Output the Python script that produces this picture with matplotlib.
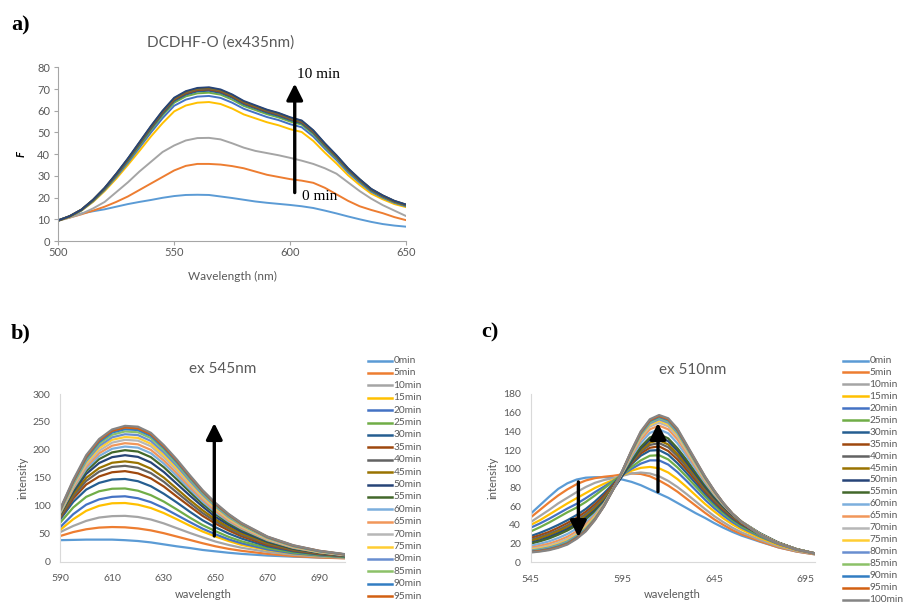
import matplotlib
matplotlib.use("Agg")
import matplotlib.pyplot as plt
from matplotlib.lines import Line2D

plt.rcParams["font.family"] = ["Lato", "DejaVu Sans"]

# ---------------- data ----------------
# Excel-style series colours (0, 5, 10 ... min)
series_colors = ["#5B9BD5", "#ED7D31", "#A5A5A5", "#FFC000", "#4472C4", "#70AD47",
                 "#255E91", "#9E480E", "#636363", "#997300", "#264478", "#43682B",
                 "#7CAFDD", "#F1975A", "#B7B7B7", "#FFCD33", "#698ED0", "#8CC168",
                 "#327DC2", "#D26012", "#848484"]

# a) DCDHF-O, excitation 435 nm, 0-10 min
a_wavelength = list(range(500, 655, 5))
a_0min = [9.7, 11.3, 12.7, 13.7, 14.6, 15.8, 17, 18, 18.9, 19.9, 20.7, 21.2, 21.3, 21.2, 20.5, 19.8,
          19, 18.2, 17.6, 17.1, 16.6, 16, 15.2, 14, 12.7, 11.3, 10, 8.8, 7.8, 7.1, 6.6]
a_1min = [9.5, 10.8, 12.3, 14, 15.8, 18, 20.5, 23.5, 26.5, 29.5, 32.5, 34.6, 35.5, 35.5, 35.2, 34.5,
          33.5, 32, 30.5, 29.5, 28.5, 27.8, 26.8, 24.5, 21.5, 18.5, 16, 14.3, 12.8, 11, 9.6]
a_2min = [9.3, 10.8, 12.5, 15, 18, 22.5, 27, 32, 36.5, 41, 44, 46.3, 47.4, 47.5, 46.8, 45,
          43, 41.5, 40.5, 39.5, 38.3, 37, 35.5, 33.5, 31, 27, 23, 19.5, 16.5, 14, 11.5]
a_3min = [9.3, 11.2, 14, 18, 23, 28.7, 35, 41.5, 48.2, 54.3, 59.7, 62.4, 63.7, 64, 63.1, 61,
          58.3, 56.5, 54.7, 53.3, 51.5, 50.2, 46.1, 40.7, 35.7, 30.3, 25.8, 21.8, 19.2, 17, 15.6]
a_4min = [9.3, 11.3, 14.1, 18.3, 23.5, 29.5, 36, 43, 50, 56.6, 62.3, 65.1, 66.5, 66.8, 65.9, 63.7,
          60.9, 59, 57.1, 55.7, 53.8, 52.4, 48.1, 42.5, 37.3, 31.6, 26.9, 22.7, 19.9, 17.6, 16]
a_5min = [9.4, 11.3, 14.2, 18.5, 23.8, 30, 36.7, 43.9, 51.1, 57.9, 63.7, 66.6, 68, 68.3, 67.4, 65.1,
          62.2, 60.3, 58.4, 56.9, 55, 53.6, 49.2, 43.4, 38.1, 32.3, 27.5, 23.2, 20.3, 17.9, 16.3]
a_6min = [9.4, 11.4, 14.3, 18.7, 24, 30.3, 37.1, 44.5, 51.8, 58.6, 64.5, 67.4, 68.9, 69.2, 68.2, 66,
          63, 61.1, 59.1, 57.6, 55.7, 54.2, 49.8, 44, 38.6, 32.7, 27.8, 23.4, 20.5, 18.1, 16.4]
a_7min = [9.4, 11.4, 14.4, 18.8, 24.2, 30.6, 37.5, 44.9, 52.3, 59.2, 65.1, 68, 69.5, 69.8, 68.8, 66.6,
          63.6, 61.6, 59.7, 58.2, 56.2, 54.7, 50.3, 44.4, 38.9, 33, 28.1, 23.7, 20.7, 18.2, 16.6]
a_8min = [9.5, 11.5, 14.4, 18.9, 24.3, 30.8, 37.7, 45.1, 52.6, 59.5, 65.5, 68.4, 69.9, 70.2, 69.2, 67,
          64, 62, 60, 58.5, 56.5, 55, 50.6, 44.6, 39.2, 33.2, 28.3, 23.8, 20.8, 18.4, 16.7]
a_9min = [9.5, 11.5, 14.5, 19, 24.4, 30.9, 37.8, 45.3, 52.8, 59.8, 65.7, 68.7, 70.2, 70.5, 69.5, 67.2,
          64.2, 62.2, 60.3, 58.8, 56.8, 55.3, 50.8, 44.8, 39.3, 33.4, 28.4, 23.9, 20.9, 18.4, 16.7]
a_10min = [9.5, 11.5, 14.5, 19, 24.5, 31, 38, 45.5, 53, 60, 66, 69, 70.5, 70.8, 69.8, 67.5,
           64.5, 62.5, 60.5, 59, 57, 55.5, 51, 45, 39.5, 33.5, 28.5, 24, 21, 18.5, 16.8]

# b) excitation 545 nm, 0-100 min
b_wavelength = [590, 595, 600, 605, 610, 615, 620, 625, 630, 635, 640, 645, 650, 655, 660, 670, 680, 690, 700]
b_0min = [38.5, 39, 39.5, 39.5, 39.5, 38.5, 37, 34.5, 31, 27.5, 24.5, 21, 18.5, 16, 14, 11, 9, 7.5, 6.5]
b_5min = [46, 53, 58, 61, 62, 61.5, 59.5, 56, 51, 45, 39, 33, 27.5, 23, 19.5, 14, 10, 7.5, 6]
b_10min = [53, 64, 73, 79, 81.5, 82, 80, 75.5, 68.5, 60, 51.5, 43.5, 36, 30, 25, 17.5, 12.5, 9, 7]
b_15min = [57, 76, 91, 100, 104.5, 105, 102, 96, 87, 76, 64.5, 54, 45, 37, 30, 21, 14.5, 10.5, 8]
b_20min = [62, 85, 102, 111.5, 116, 117, 113.5, 106.5, 96, 83.5, 71, 59, 49, 40, 33, 22, 15, 11, 8]
b_25min = [70, 97, 116, 126, 130.5, 131, 127, 119, 107.5, 93.5, 79, 65.5, 54.5, 44.5, 36.5, 24.5, 16.5, 12, 8.5]
b_30min = [76, 107, 129, 141, 147, 148, 144, 135, 121.5, 106, 89.5, 74, 61.5, 50.5, 41.5, 27.5, 18.5, 13, 9.5]
b_35min = [79, 113, 138, 152.5, 160, 162, 158, 149, 134.5, 116.5, 99, 82, 68, 56, 45.5, 30, 20, 14, 10]
b_40min = [81, 117, 144.5, 161, 169.5, 171.5, 168, 158.5, 143, 124, 105, 87, 72, 59.5, 48.5, 32, 21, 15, 10.5]
b_45min = [83, 121, 150, 167.5, 177, 179.5, 176.5, 166.5, 150.5, 130.5, 110.5, 92, 75.5, 62, 51, 33.5, 22, 15.5, 11]
b_50min = [85, 125, 157, 176.5, 187, 190.5, 187.5, 177.5, 160.5, 139.5, 118.5, 98.5, 80, 66, 54, 35.5, 23, 16, 11]
b_55min = [86, 128, 162, 183.5, 195.5, 199.5, 197, 187, 169, 147.5, 125, 103.5, 85, 69, 57, 37, 24, 16.5, 11.5]
b_60min = [87, 130.5, 166, 189, 202, 206, 204, 194, 175.5, 153.5, 130, 107.5, 88, 72, 59, 38.5, 25, 17, 11.5]
b_65min = [88, 132.5, 170, 194, 207.5, 212, 210, 200, 181, 158.5, 134, 111, 91, 74, 60.5, 39.5, 25.5, 17, 12]
b_70min = [89, 135, 173.5, 198.5, 213, 218, 216.5, 206.5, 186.5, 163.5, 138.5, 114.5, 94, 76.5, 62.5, 40.5, 26.5, 17.5, 12]
b_75min = [90, 137.5, 177, 203, 218, 223, 221.5, 211, 191, 167.5, 142, 117.5, 96, 78, 64, 41.5, 27, 18, 12.5]
b_80min = [91, 139, 180, 207, 222.5, 228, 226.5, 216, 195.5, 171.5, 145, 120, 98.5, 80, 65.5, 42.5, 27.5, 18.5, 12.5]
b_85min = [92, 141, 183, 211, 227, 233, 231.5, 221, 200, 175.5, 148.5, 123, 100.5, 82, 66.5, 43.5, 28, 18.5, 13]
b_90min = [93, 143, 185.5, 214, 231, 237, 235.5, 225, 203.5, 178.5, 151, 125, 102.5, 83.5, 68, 44, 28.5, 19, 13]
b_95min = [94, 144.5, 188, 217, 234, 240, 238.5, 228, 206, 181, 153, 126.5, 103.5, 84.5, 68.5, 44.5, 29, 19.5, 13]
b_100min = [95, 146.5, 190.5, 219.5, 236.5, 243, 241.5, 230.5, 208.5, 183, 155, 128, 105, 85.5, 69.5, 45, 29.5, 19.5, 13.5]

# c) excitation 510 nm, 0-100 min
c_wavelength = [545, 550, 555, 560, 565, 570, 575, 580, 585, 590, 595, 600, 605, 610, 615, 620,
                625, 630, 635, 640, 645, 650, 655, 660, 670, 680, 690, 700]
c_0min = [52, 61, 70, 78.5, 84.5, 88.5, 90.5, 91, 91, 90, 88.5, 86, 82.5, 78, 73.5, 69,
          63.5, 58, 52.5, 47.5, 42, 37, 32.5, 28.5, 22, 16, 11.5, 8.5]
c_5min = [48, 56, 64, 71.5, 78, 83.5, 87.5, 90, 91.5, 92.5, 94, 95, 94.5, 92, 87.5, 82,
          75.5, 68, 60.5, 53, 46, 40, 34.5, 30, 22.5, 16, 11.5, 8.5]
c_10min = [43, 49.5, 56, 63, 69, 75, 80.5, 85, 88, 90, 92.5, 95, 96, 95, 92, 87,
           80.5, 73, 65, 57, 49.5, 43, 37, 32, 24, 17, 12, 9]
c_15min = [40, 45, 51, 57, 63, 68.5, 74, 79.5, 84, 88, 93, 98, 101, 102, 100.5, 96,
           89, 80.5, 71.5, 62.5, 54.5, 47, 40.5, 35, 26, 18.5, 13, 9.5]
c_20min = [37, 41.5, 46.5, 52, 57.5, 62.5, 68.5, 75, 81, 87, 93.5, 100, 105.5, 109, 109, 104.5,
           96.5, 87, 77, 67, 58, 50, 43, 37, 27.5, 19.5, 13.5, 9.5]
c_25min = [33, 37.5, 42.5, 48, 53.5, 58.5, 64.5, 71.5, 79, 86.5, 94, 102, 109, 114, 114.5, 110,
           101.5, 91.5, 81, 70.5, 61, 52.5, 45, 38.5, 28.5, 20, 14, 9.5]
c_30min = [28, 31.5, 35.5, 40, 45, 50.5, 57, 65, 74, 84, 94.5, 105, 114, 119.5, 120, 115,
           106, 95.5, 84.5, 73.5, 63.5, 54.5, 46.5, 40, 29.5, 20.5, 14, 9.5]
c_35min = [26, 29, 32.5, 37, 42, 47.5, 54, 62, 71.5, 82.5, 94, 106, 116.5, 122.5, 124, 119,
           110, 99, 87.5, 76, 65.5, 56, 48, 41, 30, 21, 14, 9.5]
c_40min = [24, 27, 30.5, 34.5, 39.5, 45, 51.5, 59.5, 69.5, 81, 93.5, 107, 118.5, 125.5, 127.5, 123,
           113.5, 102, 90, 78, 67, 57.5, 49, 42, 30.5, 21, 14, 9.5]
c_45min = [23, 25.5, 29, 33, 37.5, 43, 49.5, 57.5, 67.5, 79.5, 93, 107.5, 120, 128, 130.5, 126,
           116, 104.5, 92, 79.5, 68.5, 58.5, 50, 42.5, 30.5, 21, 14, 9.5]
c_50min = [21, 23.5, 27, 31, 35.5, 41, 47.5, 55.5, 65.5, 78, 92.5, 108, 122, 131, 134, 129.5,
           119.5, 107, 94, 81, 69.5, 59.5, 50.5, 43, 31, 21, 14, 9.5]
c_55min = [20, 22.5, 25.5, 29.5, 34, 39.5, 46, 54, 64, 79, 94.5, 110, 123.5, 133.5, 137, 132.5,
           122, 109.5, 96, 83, 71, 60.5, 51.5, 43.5, 31, 21, 14, 9.5]
c_60min = [17.6, 19.8, 22.4, 26, 30.3, 35.9, 42.8, 51.8, 63, 78.8, 95.4, 112.5, 127.6, 138.4, 142.1, 137.9,
           127.3, 113.6, 99.3, 85.3, 72.5, 61.3, 51.6, 43.4, 30.6, 20.8, 13.9, 9.5]
c_65min = [15.7, 17.6, 19.9, 23.2, 27.3, 33, 40.2, 50, 62.2, 78.6, 96.1, 114.5, 130.9, 142.3, 146.2, 142.2,
           131.5, 116.9, 101.9, 87.1, 73.7, 61.9, 51.7, 43.3, 30.3, 20.6, 13.8, 9.5]
c_70min = [14.3, 15.9, 18, 21.1, 25, 30.8, 38.2, 48.6, 61.6, 78.4, 96.6, 116, 133.4, 145.2, 149.3, 145.4,
           134.6, 119.4, 103.8, 88.4, 74.6, 62.3, 51.8, 43.2, 30.1, 20.4, 13.7, 9.5]
c_75min = [13.4, 14.8, 16.8, 19.7, 23.5, 29.4, 37.3, 48.3, 61.2, 78.3, 97.1, 117, 135.1, 147.2, 151.5, 147.6,
           136.7, 121.1, 105.1, 89.3, 75.2, 62.6, 51.9, 43.2, 30, 20.3, 13.7, 9.5]
c_80min = [12.6, 13.9, 15.8, 18.6, 22.3, 28.2, 35.9, 47, 60.9, 78.2, 97.2, 117.8, 136.4, 148.7, 153, 149.3,
           138.4, 122.4, 106.1, 90, 75.7, 62.8, 51.9, 43.1, 29.8, 20.2, 13.6, 9.5]
c_85min = [11.9, 13.2, 14.9, 17.6, 21.3, 27.2, 35, 46.4, 60.6, 78.2, 97.5, 118.5, 137.5, 150.1, 154.4, 150.8,
           139.9, 123.5, 107, 90.7, 76.1, 63.1, 51.9, 43.1, 29.7, 20.2, 13.6, 9.5]
c_90min = [11.5, 12.6, 14.3, 16.9, 20.5, 26.5, 34.3, 45.9, 60.4, 78.1, 97.7, 119, 138.4, 151.1, 155.5, 151.9,
           140.9, 124.4, 107.7, 91.1, 76.4, 63.2, 52, 43.1, 29.7, 20.1, 13.6, 9.5]
c_95min = [11, 12.1, 13.6, 16.2, 19.8, 25.7, 33.7, 45.5, 60.2, 78.1, 97.8, 119.5, 139.2, 152, 156.5, 152.9,
           142, 125.2, 108.4, 91.6, 76.7, 63.4, 52, 43, 29.6, 20.1, 13.5, 9.5]
c_100min = [10.5, 11.5, 13, 15.5, 19, 25, 33, 45, 60, 78, 98, 120, 140, 153, 157.5, 154,
            143, 126, 109, 92, 77, 63.5, 52, 43, 29.5, 20, 13.5, 9.5]

a_series = [a_0min, a_1min, a_2min, a_3min, a_4min, a_5min, a_6min, a_7min, a_8min, a_9min, a_10min]
b_series = [b_0min, b_5min, b_10min, b_15min, b_20min, b_25min, b_30min, b_35min, b_40min, b_45min,
            b_50min, b_55min, b_60min, b_65min, b_70min, b_75min, b_80min, b_85min, b_90min, b_95min, b_100min]
c_series = [c_0min, c_5min, c_10min, c_15min, c_20min, c_25min, c_30min, c_35min, c_40min, c_45min,
            c_50min, c_55min, c_60min, c_65min, c_70min, c_75min, c_80min, c_85min, c_90min, c_95min, c_100min]
time_labels = [f"{t}min" for t in range(0, 105, 5)]

# ---------------- figure ----------------
W, H = 905, 606
fig = plt.figure(figsize=(W / 100, H / 100), dpi=100)
fig.patch.set_facecolor("white")
TXT = "#595959"


def fx(px):
    return px / W


def fy(py):
    return 1 - py / H


def add_axes(x0, x1, y_bottom, y_top):
    return fig.add_axes([fx(x0), fy(y_bottom), fx(x1) - fx(x0), fy(y_top) - fy(y_bottom)])


def style_excel(ax, spine_color, tick_len, fs):
    for s in ("top", "right"):
        ax.spines[s].set_visible(False)
    for s in ("left", "bottom"):
        ax.spines[s].set_color(spine_color)
        ax.spines[s].set_linewidth(0.8)
    ax.tick_params(colors=TXT, labelsize=fs, length=tick_len, width=0.8)
    ax.tick_params(axis="both", color=spine_color)


def arrow(ax, x, y_from, y_to):
    ax.annotate("", xy=(x, y_to), xytext=(x, y_from),
                arrowprops=dict(arrowstyle="-|>,head_width=0.35,head_length=0.7",
                                lw=2.4, color="black", mutation_scale=14,
                                shrinkA=0, shrinkB=0), zorder=10)


# ----- a) -----
axa = add_axes(58.3, 406, 241, 67.3)
for ys, col in zip(a_series, series_colors):
    axa.plot(a_wavelength, ys, color=col, lw=1.4, solid_capstyle="round")
axa.set_xlim(500, 650)
axa.set_ylim(0, 80)
axa.set_xticks([500, 550, 600, 650])
axa.set_yticks(range(0, 90, 10))
style_excel(axa, "#A6A6A6", 3, 8)
axa.tick_params(axis="x", pad=1)
axa.tick_params(axis="y", pad=3)
arrow(axa, 602, 22.3, 72.5)
axa.text(603, 76.5, "10 min", family=["Liberation Serif"], fontsize=11, color="black",
         ha="left", va="center")
axa.text(605, 20.5, "0 min", family=["Liberation Serif"], fontsize=11, color="black",
         ha="left", va="center")
fig.text(fx(221), fy(43), "DCDHF-O (ex435nm)", fontsize=11, color=TXT, ha="center", va="center")
fig.text(fx(232), fy(276), "Wavelength (nm)", fontsize=8.5, color=TXT, ha="center", va="center")
fig.text(fx(21), fy(154), "F", fontsize=8, color="black", fontweight="bold", style="italic",
         rotation=90, ha="center", va="center")
fig.text(fx(11), fy(25), "a)", family=["Liberation Serif"], fontsize=16, fontweight="bold",
         ha="left", va="center")

# ----- b) -----
axb = add_axes(60.3, 345, 561.7, 394)
for ys, col in zip(b_series, series_colors):
    axb.plot(b_wavelength, ys, color=col, lw=1.6, solid_capstyle="round")
axb.set_xlim(590, 700)
axb.set_ylim(0, 300)
axb.set_xticks(range(590, 700, 20))
axb.set_yticks(range(0, 350, 50))
style_excel(axb, "#D9D9D9", 0, 7.5)
axb.tick_params(axis="x", pad=9)
axb.tick_params(axis="y", pad=7)
arrow(axb, 649.5, 46, 248)
fig.text(fx(223), fy(369), "ex 545nm", fontsize=11, color=TXT, ha="center", va="center")
fig.text(fx(203), fy(595), "wavelength", fontsize=8, color=TXT, ha="center", va="center")
fig.text(fx(23), fy(478), "intensity", fontsize=8, color=TXT, rotation=90, ha="center", va="center")
fig.text(fx(11), fy(333), "b)", family=["Liberation Serif"], fontsize=16, fontweight="bold",
         ha="left", va="center")

# ----- c) -----
axc = add_axes(530.7, 815, 562.3, 394)
for ys, col in zip(c_series, series_colors):
    axc.plot(c_wavelength, ys, color=col, lw=1.6, solid_capstyle="round")
axc.set_xlim(545, 700)
axc.set_ylim(0, 180)
axc.set_xticks([545, 595, 645, 695])
axc.set_yticks(range(0, 200, 20))
style_excel(axc, "#D9D9D9", 0, 7.5)
axc.tick_params(axis="x", pad=9)
axc.tick_params(axis="y", pad=7)
arrow(axc, 571, 86, 27)
arrow(axc, 614.4, 75.5, 149)
fig.text(fx(692.5), fy(370.5), "ex 510nm", fontsize=11, color=TXT, ha="center", va="center")
fig.text(fx(672.5), fy(595), "wavelength", fontsize=8, color=TXT, ha="center", va="center")
fig.text(fx(492.5), fy(478), "intensity", fontsize=8, color=TXT, rotation=90, ha="center", va="center")
fig.text(fx(481), fy(332), "c)", family=["Liberation Serif"], fontsize=16, fontweight="bold",
         ha="left", va="center")


# ----- legends: one entry per row, as many rows as fit above the lower edge -----
def legend_column(x0, x1, y0, dy, labels, colors):
    for i, (lab, col) in enumerate(zip(labels, colors)):
        y = y0 + dy * i
        if y > H - 5:
            break
        fig.add_artist(Line2D([fx(x0), fx(x1)], [fy(y), fy(y)], color=col, lw=1.8,
                              transform=fig.transFigure))
        fig.text(fx(x1 + 1.5), fy(y), lab, fontsize=7.3, color=TXT, ha="left", va="center")


legend_column(368, 392, 360.5, 12.4, time_labels, series_colors)
legend_column(843, 868, 360.5, 11.95, time_labels, series_colors)

fig.savefig("out.png", dpi=100, facecolor="white")
